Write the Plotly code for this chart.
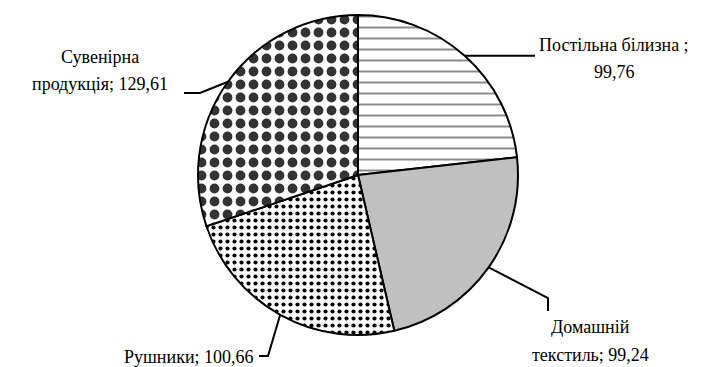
import math
import plotly.graph_objects as go

# Category shares (values shown next to each slice)
categories = ["Постільна білизна", "Домашній текстиль", "Рушники", "Сувенірна продукція"]
values = [99.76, 99.24, 100.66, 129.61]
value_text = ["99,76", "99,24", "100,66", "129,61"]

W, H = 717, 367
CX, CY, R = 358, 175, 160  # pie centre and radius in pixels

fig = go.Figure(
    go.Pie(
        labels=categories,
        values=values,
        sort=False,
        direction="clockwise",
        rotation=0,
        textinfo="none",
        hoverinfo="label+value",
        domain=dict(x=[(CX - R) / W, (CX + R) / W], y=[(H - CY - R) / H, (H - CY + R) / H]),
        marker=dict(
            colors=["white", "#c0c0c0", "white", "white"],
            line=dict(color="black", width=2),
            pattern=dict(
                shape=["-", "", ".", "."],
                fgcolor=["#8a8a8a", "#c0c0c0", "black", "#333333"],
                bgcolor=["white", "#c0c0c0", "white", "white"],
                size=[11, 8, 7, 13],
                solidity=[0.18, 0.2, 0.28, 0.45],
                fillmode="replace",
            ),
        ),
    )
)

# Edge point of each slice at its mid-angle (clockwise from 12 o'clock)
total = sum(values)
edge = []
acc = 0.0
for v in values:
    mid = (acc + v / 2) / total * 2 * math.pi
    edge.append((CX + R * math.sin(mid), CY - R * math.cos(mid)))
    acc += v


def px(x, y):
    return x / W, 1 - y / H


# Leader-line bends / ends (pixels); None keeps the edge point's height
leaders = [
    [(535, None)],
    [(548, 298), (548, 311)],
    [(268, 356), (259, 356)],
    [(200, 93), (184, 93)],
]
shapes = []
for (ex, ey), pts in zip(edge, leaders):
    path_pts = [(ex, ey)] + [(x, ey if y is None else y) for x, y in pts]
    d = "M " + " L ".join(f"{px(x, y)[0]:.5f},{px(x, y)[1]:.5f}" for x, y in path_pts)
    shapes.append(dict(type="path", path=d, xref="paper", yref="paper",
                       line=dict(color="black", width=2)))

font = dict(family="Liberation Serif, Times New Roman, serif", size=18, color="black")
label_lines = [
    [(f"{categories[0]} ;", 614, 45, "center"), (value_text[0], 614, 72, "center")],
    [("Домашній", 590, 327, "center"), (f"текстиль; {value_text[1]}", 590, 355, "center")],
    [(f"{categories[2]}; {value_text[2]}", 256, 357, "right")],
    [("Сувенірна", 100, 57, "center"), (f"продукція; {value_text[3]}", 100, 84, "center")],
]
annotations = []
for lines in label_lines:
    for text, x, y, anchor in lines:
        ax, ay = px(x, y)
        annotations.append(dict(text=text, x=ax, y=ay, xref="paper", yref="paper",
                                xanchor=anchor, yanchor="middle", showarrow=False, font=font))

fig.update_layout(
    width=W, height=H,
    margin=dict(l=0, r=0, t=0, b=0),
    paper_bgcolor="white", plot_bgcolor="white",
    showlegend=False,
    shapes=shapes,
    annotations=annotations,
)

fig.write_html("out.html")
